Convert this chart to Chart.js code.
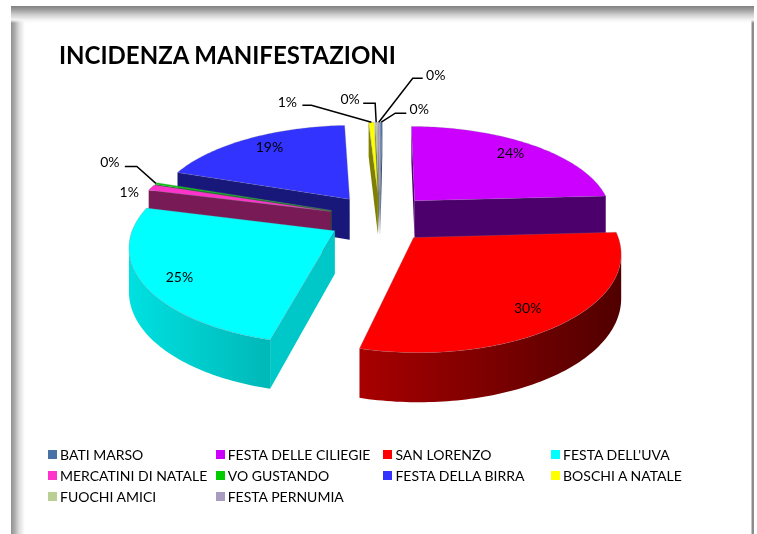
<!DOCTYPE html>
<html>
<head>
<meta charset="utf-8">
<title>Incidenza manifestazioni</title>
<script src="https://cdn.jsdelivr.net/npm/chart.js@4"></script>
<style>
html, body { margin: 0; padding: 0; background: #fff; }
body { position: relative; width: 757px; height: 534px; overflow: hidden; font-family: Lato, sans-serif; color: #000; }
#frame {
    position: absolute; left: 11px; top: 6px; width: 743px; height: 528px; box-sizing: border-box;
    background:
        linear-gradient(to bottom, #808080 0, #a0a0a0 4px, #d0d0d0 9px, #f4f4f4 14px, rgba(255,255,255,0) 17px),
        linear-gradient(to right, #909090 0, #b0b0b0 4px, #dcdcdc 8px, rgba(255,255,255,0) 14px),
        linear-gradient(to left, #8c8c8c 0, #8c8c8c 2px, rgba(255,255,255,0) 3px),
        #fff;
}
#chart { position: absolute; left: 0; top: 0; }
#title { position: absolute; left: 59px; top: 39px; font-size: 24px; font-weight: 700; line-height: 32px; white-space: nowrap; }
#legend { position: absolute; left: 48px; top: 444px; display: grid; grid-template-columns: repeat(4, 167.7px); grid-auto-rows: 21px; font-size: 14px; }
#legend div { display: flex; align-items: center; white-space: nowrap; }
#legend i { display: block; width: 9px; height: 9px; margin-right: 3px; }
</style>
</head>
<body>
<div id="frame"></div>
<canvas id="chart" width="757" height="534"></canvas>
<div id="title">INCIDENZA MANIFESTAZIONI</div>
<div id="legend"></div>
<script>
const categories = ['BATI MARSO', 'FESTA DELLE CILIEGIE', 'SAN LORENZO', "FESTA DELL'UVA", 'MERCATINI DI NATALE',
    'VO GUSTANDO', 'FESTA DELLA BIRRA', 'BOSCHI A NATALE', 'FUOCHI AMICI', 'FESTA PERNUMIA'];
const values = [0.2, 23.95, 29.9, 24.8, 1.0, 0.3, 18.9, 0.55, 0.2, 0.2];
const colors = ['#4672a8', '#cc00ff', '#ff0000', '#00ffff', '#ff33cc', '#00cc00', '#3333ff', '#ffff00', '#b9cf94', '#a89cc0'];

// fianchi: pareta radiale, bordo curvo inizio -> fine
const wallColors = ['#2a4565', '#4b006b', '#6a0000', '#00c8c8', '#771a55', '#1a6a1a', '#18187a', '#808000', '#6f7c58', '#656074'];
const rimFrom = ['#2a4565', '#4b006b', '#500000', '#00b8b8', '#771a55', '#1a6a1a', '#18187a', '#808000', '#6f7c58', '#656074'];
const rimTo = ['#2a4565', '#4b006b', '#a80000', '#00e0e0', '#771a55', '#1a6a1a', '#18187a', '#808000', '#6f7c58', '#656074'];

// etichette interne: frazione di raggio e ritocco; esterne: gomito, fine linea, testo rispetto al bordo
const insideLabels = { 1: [0.72, 10, -5], 2: [0.82, -5, 1], 3: [0.82, -1, 3], 6: [0.72, -6, -6] };
const callouts = {
    0: [[14, -9], [25, -9], [38, -13]],
    4: [null, null, [-22, 5]],
    5: [[-19, -17], [-31, -17], [-46, -21]],
    7: [[-60, -17], [-69, -17], [-84, -20]],
    8: [[-1, -19], [-13, -19], [-26, -23]],
    9: [[34, -44], [44, -44], [57, -47]]
};

const view = { sx: 1.03, sy: 0.49, persX: 0.15, persY: 0.155, depth: 42, persDepth: 0.15 };

const pie3d = {
    id: 'pie3d',
    beforeDatasetsDraw(chart) {
        const ctx = chart.ctx;
        const arcs = chart.getDatasetMeta(0).data;
        const total = values.reduce((a, b) => a + b, 0);
        const first = arcs[0];
        const cx = first.x, cy = first.y, R = first.outerRadius;

        const project = (px, py) => ({
            x: cx + px * view.sx * (1 + view.persX * py / R),
            y: cy + py * view.sy * (1 + view.persY * py / R),
            d: view.depth * (1 + view.persDepth * py / R)
        });
        const shift = arc => {
            const mid = (arc.startAngle + arc.endAngle) / 2;
            return { px: Math.cos(mid) * arc.options.offset, py: Math.sin(mid) * arc.options.offset, mid };
        };
        const at = (arc, angle, r) => {
            const s = shift(arc);
            return project(s.px + Math.cos(angle) * r, s.py + Math.sin(angle) * r);
        };
        // striscia verticale lungo una spezzata che va verso sinistra
        const wall = (pts, fill) => {
            ctx.beginPath();
            pts.forEach((p, k) => k ? ctx.lineTo(p.x, p.y) : ctx.moveTo(p.x, p.y));
            for (let k = pts.length - 1; k >= 0; k--) ctx.lineTo(pts[k].x, pts[k].y + pts[k].d);
            ctx.closePath();
            ctx.fillStyle = fill;
            ctx.fill();
        };

        // dal fondo verso il davanti
        const order = arcs.map((a, i) => i).sort((i, j) => Math.sin(shift(arcs[i]).mid) - Math.sin(shift(arcs[j]).mid));
        order.forEach(i => {
            const arc = arcs[i];
            const n = Math.max(2, Math.ceil((arc.endAngle - arc.startAngle) / 0.02));
            const apex = at(arc, 0, 0);
            const rim = [];
            for (let k = 0; k <= n; k++) {
                rim.push(at(arc, arc.startAngle + (arc.endAngle - arc.startAngle) * k / n, arc.outerRadius));
            }
            if (rim[0].x < apex.x) wall([apex, rim[0]], wallColors[i]);
            if (apex.x < rim[n].x) wall([rim[n], apex], wallColors[i]);

            // parte visibile del bordo curvo: solo dove si va verso sinistra
            let run = [];
            const flush = () => {
                if (run.length > 1) {
                    const grad = ctx.createLinearGradient(run[0].x, 0, run[run.length - 1].x, 0);
                    grad.addColorStop(0, rimFrom[i]);
                    grad.addColorStop(1, rimTo[i]);
                    wall(run, grad);
                }
                run = [];
            };
            for (let k = 0; k < n; k++) {
                if (rim[k + 1].x < rim[k].x) {
                    if (!run.length) run.push(rim[k]);
                    run.push(rim[k + 1]);
                } else {
                    flush();
                }
            }
            flush();

            ctx.beginPath();
            ctx.moveTo(apex.x, apex.y);
            rim.forEach(p => ctx.lineTo(p.x, p.y));
            ctx.closePath();
            ctx.fillStyle = arc.options.backgroundColor;
            ctx.strokeStyle = 'rgba(120,120,140,0.45)';
            ctx.lineWidth = 0.6;
            ctx.fill();
            ctx.stroke();
        });

        ctx.font = '14px Lato, sans-serif';
        ctx.textAlign = 'center';
        ctx.textBaseline = 'middle';
        arcs.forEach((arc, i) => {
            const text = Math.round(values[i] / total * 100) + '%';
            const mid = shift(arc).mid;
            ctx.fillStyle = '#000';
            if (insideLabels[i]) {
                const l = insideLabels[i];
                const p = at(arc, mid, arc.outerRadius * l[0]);
                ctx.fillText(text, p.x + l[1], p.y + l[2]);
                return;
            }
            const c = callouts[i];
            const p = at(arc, mid, arc.outerRadius);
            if (c[0]) {
                ctx.beginPath();
                ctx.moveTo(p.x, p.y);
                ctx.lineTo(p.x + c[0][0], p.y + c[0][1]);
                ctx.lineTo(p.x + c[1][0], p.y + c[1][1]);
                ctx.strokeStyle = '#000';
                ctx.lineWidth = 1.5;
                ctx.stroke();
            }
            ctx.fillText(text, p.x + c[2][0], p.y + c[2][1]);
        });
        return false;
    }
};

new Chart(document.getElementById('chart').getContext('2d'), {
    type: 'pie',
    data: {
        labels: categories,
        datasets: [{ data: values, backgroundColor: colors, borderWidth: 0, offset: 50 }]
    },
    options: {
        responsive: false,
        animation: false,
        layout: { padding: { left: 3, bottom: 98 } },
        plugins: { legend: { display: false }, tooltip: { enabled: false } }
    },
    plugins: [pie3d]
});

// legenda a griglia come nell'originale
const legend = document.getElementById('legend');
categories.forEach((name, i) => {
    const row = document.createElement('div');
    const box = document.createElement('i');
    box.style.background = colors[i];
    row.appendChild(box);
    row.appendChild(document.createTextNode(name));
    legend.appendChild(row);
});
</script>
</body>
</html>
